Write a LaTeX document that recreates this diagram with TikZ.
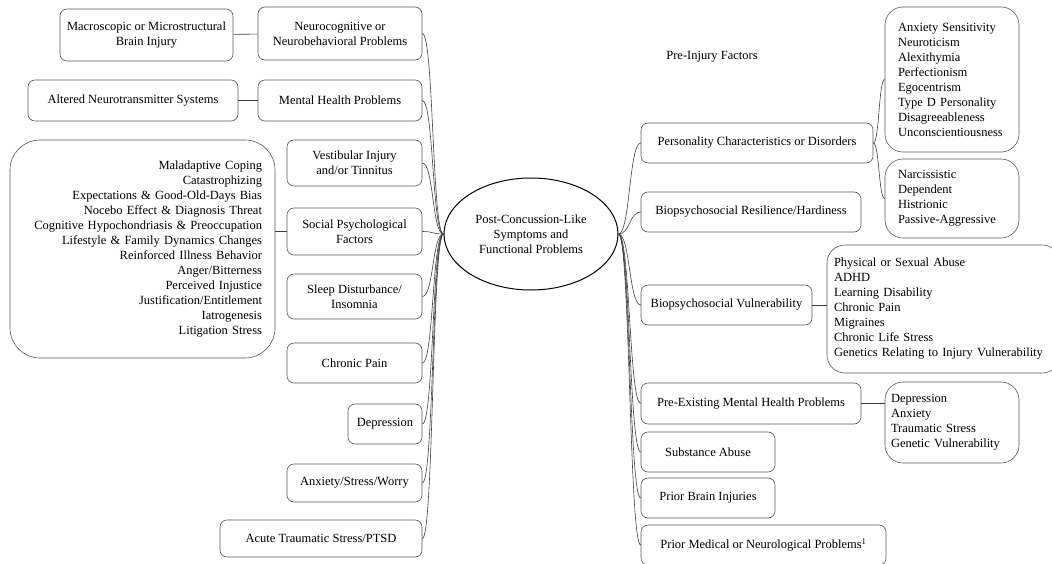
\documentclass[tikz,border=0pt]{standalone}
\usepackage{fontspec}
\setmainfont{Liberation Serif}
\usetikzlibrary{calc}
\usetikzlibrary{shapes.geometric}

\begin{document}
\begin{tikzpicture}[x=1pt, y=-1pt,
    every node/.style={font=\fontsize{12.5}{15}\selectfont},
    box/.style={draw=black!65, line width=0.6pt, rounded corners=7pt, align=center, inner sep=2pt},
    listbox/.style={draw=black!65, line width=0.6pt, rounded corners=18pt},
    branch/.style={draw=black!75, line width=0.6pt}]
    \useasboundingbox (0,0) rectangle (1052,564);

    % Centre
    \node[ellipse, draw, line width=1pt, minimum width=174pt, minimum height=112pt, align=center] (center) at (531,234) {Post-Concussion-Like\\Symptoms and\\Functional Problems};

    % Left side: symptoms
    \node[box, minimum width=164pt, minimum height=53pt] (neuro) at (340,33.5) {Neurocognitive or\\Neurobehavioral Problems};
    \node[box, minimum width=173pt, minimum height=52pt] (macro) at (146.5,35) {Macroscopic or Microstructural\\Brain Injury};
    \node[box, minimum width=210pt, minimum height=41pt] (altered) at (133,100.5) {Altered Neurotransmitter Systems};
    \node[box, minimum width=164pt, minimum height=41pt] (mental) at (340,100.5) {Mental Health Problems};
    \node[box, minimum width=135pt, minimum height=46pt] (vestib) at (354.5,163) {Vestibular Injury\\and/or Tinnitus};
    \node[box, minimum width=135pt, minimum height=47pt] (social) at (354.5,231.5) {Social Psychological\\Factors};
    \node[listbox, rounded corners=30pt, minimum width=265pt, minimum height=218pt, text width=239pt, inner xsep=13pt, align=right] (coping) at (142.5,249) {Maladaptive Coping\\Catastrophizing\\Expectations \& Good-Old-Days Bias\\Nocebo Effect \& Diagnosis Threat\\Cognitive Hypochondriasis \& Preoccupation\\Lifestyle \& Family Dynamics Changes\\Reinforced Illness Behavior\\Anger/Bitterness\\Perceived Injustice\\Justification/Entitlement\\Iatrogenesis\\Litigation Stress};
    \node[box, minimum width=135pt, minimum height=45pt] (sleep) at (354.5,296.5) {Sleep Disturbance/\\Insomnia};
    \node[box, minimum width=135pt, minimum height=40pt] (pain) at (354.5,363) {Chronic Pain};
    \node[box, minimum width=74pt, minimum height=40pt] (depr) at (385,424) {Depression};
    \node[box, minimum width=135pt, minimum height=38pt] (anx) at (354.5,483) {Anxiety/Stress/Worry};
    \node[box, minimum width=202pt, minimum height=37pt] (ptsd) at (321,538.5) {Acute Traumatic Stress/PTSD};

    % Right side: pre-injury factors
    \node (preinj) at (712,57) {Pre-Injury Factors};
    \node[box, minimum width=232pt, minimum height=40pt] (pers) at (757,143) {Personality Characteristics or Disorders};
    \node[listbox, minimum width=134pt, minimum height=145pt, text width=108pt, inner xsep=13pt, align=left] (traits) at (952,79.5) {Anxiety Sensitivity\\Neuroticism\\Alexithymia\\Perfectionism\\Egocentrism\\Type D Personality\\Disagreeableness\\Unconscientiousness};
    \node[listbox, minimum width=134pt, minimum height=79pt, text width=108pt, inner xsep=13pt, align=left] (disord) at (952,198.5) {Narcissistic\\Dependent\\Histrionic\\Passive-Aggressive};
    \node[box, minimum width=220pt, minimum height=40pt] (resil) at (751,212) {Biopsychosocial Resilience/Hardiness};
    \node[box, minimum width=171pt, minimum height=40pt] (vuln) at (726.5,305) {Biopsychosocial Vulnerability};
    \node[listbox, minimum width=233pt, minimum height=128pt, text width=219pt, inner xsep=7pt, align=left] (abuse) at (943.5,309) {Physical or Sexual Abuse\\ADHD\\Learning Disability\\Chronic Pain\\Migraines\\Chronic Life Stress\\Genetics Relating to Injury Vulnerability};
    \node[box, minimum width=220pt, minimum height=41pt] (preex) at (751,403.5) {Pre-Existing Mental Health Problems};
    \node[listbox, minimum width=134pt, minimum height=81pt, text width=122pt, inner xsep=6pt, align=left] (mood) at (952,422.5) {Depression\\Anxiety\\Traumatic Stress\\Genetic Vulnerability};
    \node[box, minimum width=134pt, minimum height=40pt] (subst) at (708,452) {Substance Abuse};
    \node[box, minimum width=134pt, minimum height=40pt] (tbi) at (708,498) {Prior Brain Injuries};
    \node[box, minimum width=245pt, minimum height=40pt] (medical) at (763.5,545) {Prior Medical or Neurological Problems\textsuperscript{1}};

    % Branches
    \foreach \n in {neuro,mental,vestib,social,sleep,pain,depr,anx,ptsd}
        \draw[branch] (center.west) .. controls +(-11.5,0) and +(11.5,0) .. (\n.east);
    \foreach \n in {pers,resil,vuln,preex,subst,tbi,medical}
        \draw[branch] (center.east) .. controls +(11.5,0) and +(-11.5,0) .. (\n.west);
    \foreach \n in {traits,disord}
        \draw[branch] (pers.east) .. controls +(6,0) and +(-6,0) .. (\n.west);

    % Sub-boxes
    \draw[branch] (macro) -- (neuro);
    \draw[branch] (altered) -- (mental);
    \draw[branch] (social.west) -- (social.west -| coping.east);
    \draw[branch] (vuln.east) -- (vuln.east -| abuse.west);
    \draw[branch] (preex.east) -- (preex.east -| mood.west);
\end{tikzpicture}
\end{document}
